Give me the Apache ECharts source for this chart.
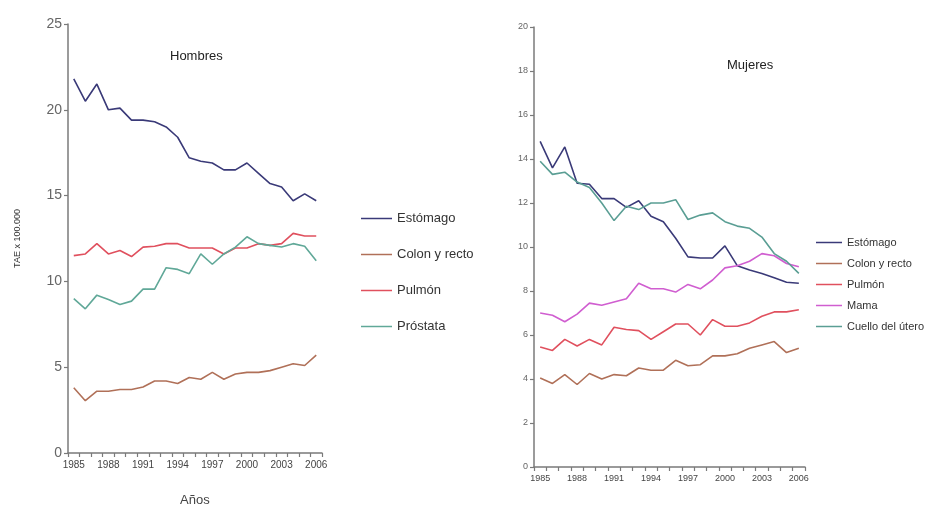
<!DOCTYPE html>
<html><head><meta charset="utf-8">
<script src="https://cdn.jsdelivr.net/npm/echarts@6/dist/echarts.min.js"></script>
<style>html,body{margin:0;padding:0;background:#fff}#c{width:937px;height:506px}</style>
</head><body><div id="c"></div>
<script>
var years = ['1985','1986','1987','1988','1989','1990','1991','1992','1993','1994','1995','1996','1997','1998','1999','2000','2001','2002','2003','2004','2005','2006'];
// Hombres
var hEstomago = [21.8,20.5,21.5,20.0,20.1,19.4,19.4,19.3,19.0,18.4,17.2,17.0,16.9,16.5,16.5,16.9,16.3,15.7,15.5,14.7,15.1,14.7];
var hColon    = [3.8,3.05,3.6,3.6,3.7,3.7,3.85,4.2,4.2,4.05,4.4,4.3,4.7,4.3,4.6,4.7,4.7,4.8,5.0,5.2,5.1,5.7];
var hPulmon   = [11.5,11.6,12.2,11.6,11.8,11.45,12.0,12.05,12.2,12.2,11.95,11.95,11.95,11.6,11.95,11.95,12.2,12.1,12.2,12.8,12.65,12.65];
var hProstata = [9.0,8.4,9.2,8.95,8.65,8.85,9.55,9.55,10.8,10.7,10.45,11.6,11.0,11.6,12.0,12.6,12.2,12.1,12.0,12.2,12.05,11.2];
// Mujeres
var mEstomago = [14.8,13.6,14.55,12.9,12.85,12.2,12.2,11.8,12.1,11.4,11.15,10.4,9.55,9.5,9.5,10.05,9.15,8.95,8.8,8.6,8.4,8.35];
var mColon    = [4.05,3.8,4.2,3.75,4.25,4.0,4.2,4.15,4.5,4.4,4.4,4.85,4.6,4.65,5.05,5.05,5.15,5.4,5.55,5.7,5.2,5.4];
var mPulmon   = [5.45,5.3,5.8,5.5,5.8,5.55,6.35,6.25,6.2,5.8,6.15,6.5,6.5,6.0,6.7,6.4,6.4,6.55,6.85,7.05,7.05,7.15];
var mMama     = [7.0,6.9,6.6,6.95,7.45,7.35,7.5,7.65,8.35,8.1,8.1,7.95,8.3,8.1,8.5,9.05,9.15,9.35,9.7,9.6,9.25,9.1];
var mCuello   = [13.9,13.3,13.4,12.95,12.7,12.0,11.2,11.85,11.7,12.0,12.0,12.15,11.25,11.45,11.55,11.15,10.95,10.85,10.45,9.7,9.35,8.8];
var hYTicks = [0,5,10,15,20,25];
var mYTicks = [0,2,4,6,8,10,12,14,16,18,20];

var C = {est:'#3a3a78', col:'#b07058', pul:'#e0505e', pro:'#60a898', mam:'#d05ed0', cue:'#5a9e94'};
var axisCol = '#7a7a7a';
function xAx(gi, fs){
  return {type:'category', gridIndex:gi, data:years, boundaryGap:true,
    axisLine:{lineStyle:{color:axisCol,width:1.5}},
    axisTick:{show:true, interval:0, length:4, lineStyle:{color:axisCol,width:1.2}},
    axisLabel:{interval:2, color:'#444', fontSize:fs, fontFamily:'Liberation Sans', margin:7}};
}
function yAx(gi, max, itv, fs, name){
  return {type:'value', gridIndex:gi, min:0, max:max, interval:itv,
    name:name||'', nameLocation:'middle', nameGap:46, nameRotate:90,
    nameTextStyle:{fontSize:9, color:'#333', fontFamily:'Liberation Sans'},
    axisLine:{show:true, lineStyle:{color:axisCol,width:1.5}},
    axisTick:{show:true, length:4, lineStyle:{color:axisCol,width:1.2}},
    splitLine:{show:false},
    axisLabel:{color:'#666', fontSize:fs, fontFamily:'Liberation Sans', margin:6}};
}
function ln(name, data, color, xi, yi){
  return {name:name, type:'line', xAxisIndex:xi, yAxisIndex:yi, data:data, symbol:'none', smooth:false,
    lineStyle:{color:color, width:1.6}, itemStyle:{color:color}};
}
var chart = echarts.init(document.getElementById('c'));
chart.setOption({
  animation:false,
  backgroundColor:'#fff',
  title:[
    {text:'Hombres', left:165, top:45, textStyle:{fontSize:13, fontWeight:'normal', color:'#222', fontFamily:'Liberation Sans'}},
    {text:'Mujeres', left:722, top:54, textStyle:{fontSize:13, fontWeight:'normal', color:'#222', fontFamily:'Liberation Sans'}},
    {text:'Años', left:175, top:489, textStyle:{fontSize:13, fontWeight:'normal', color:'#444', fontFamily:'Liberation Sans'}}
  ],
  grid:[
    {left:68, top:24, width:254, height:429},
    {left:534, top:27, width:271, height:440}
  ],
  xAxis:[xAx(0,10), xAx(1,9)],
  yAxis:[yAx(0,25,5,14,'TAE x 100.000'), yAx(1,20,2,9)],
  legend:[
    {orient:'vertical', left:356, top:207, itemGap:23, itemWidth:31, itemHeight:1.5, icon:'rect',
     textStyle:{fontSize:13, color:'#333', fontFamily:'Liberation Sans'},
     data:[{name:'Estómago'},{name:'Colon y recto'},{name:'Pulmón'},{name:'Próstata'}], selectedMode:false},
    {orient:'vertical', left:811, top:232, itemGap:10, itemWidth:26, itemHeight:1.5, icon:'rect',
     textStyle:{fontSize:11, color:'#333', fontFamily:'Liberation Sans'},
     data:[{name:'Estómago'},{name:'Colon y recto'},{name:'Pulmón'},{name:'Mama'},{name:'Cuello del útero'}], selectedMode:false}
  ],
  series:[
    ln('Estómago', hEstomago, C.est, 0, 0),
    ln('Colon y recto', hColon, C.col, 0, 0),
    ln('Pulmón', hPulmon, C.pul, 0, 0),
    ln('Próstata', hProstata, C.pro, 0, 0),
    ln('Estómago', mEstomago, C.est, 1, 1),
    ln('Colon y recto', mColon, C.col, 1, 1),
    ln('Pulmón', mPulmon, C.pul, 1, 1),
    ln('Mama', mMama, C.mam, 1, 1),
    ln('Cuello del útero', mCuello, C.cue, 1, 1)
  ]
});
</script></body></html>
